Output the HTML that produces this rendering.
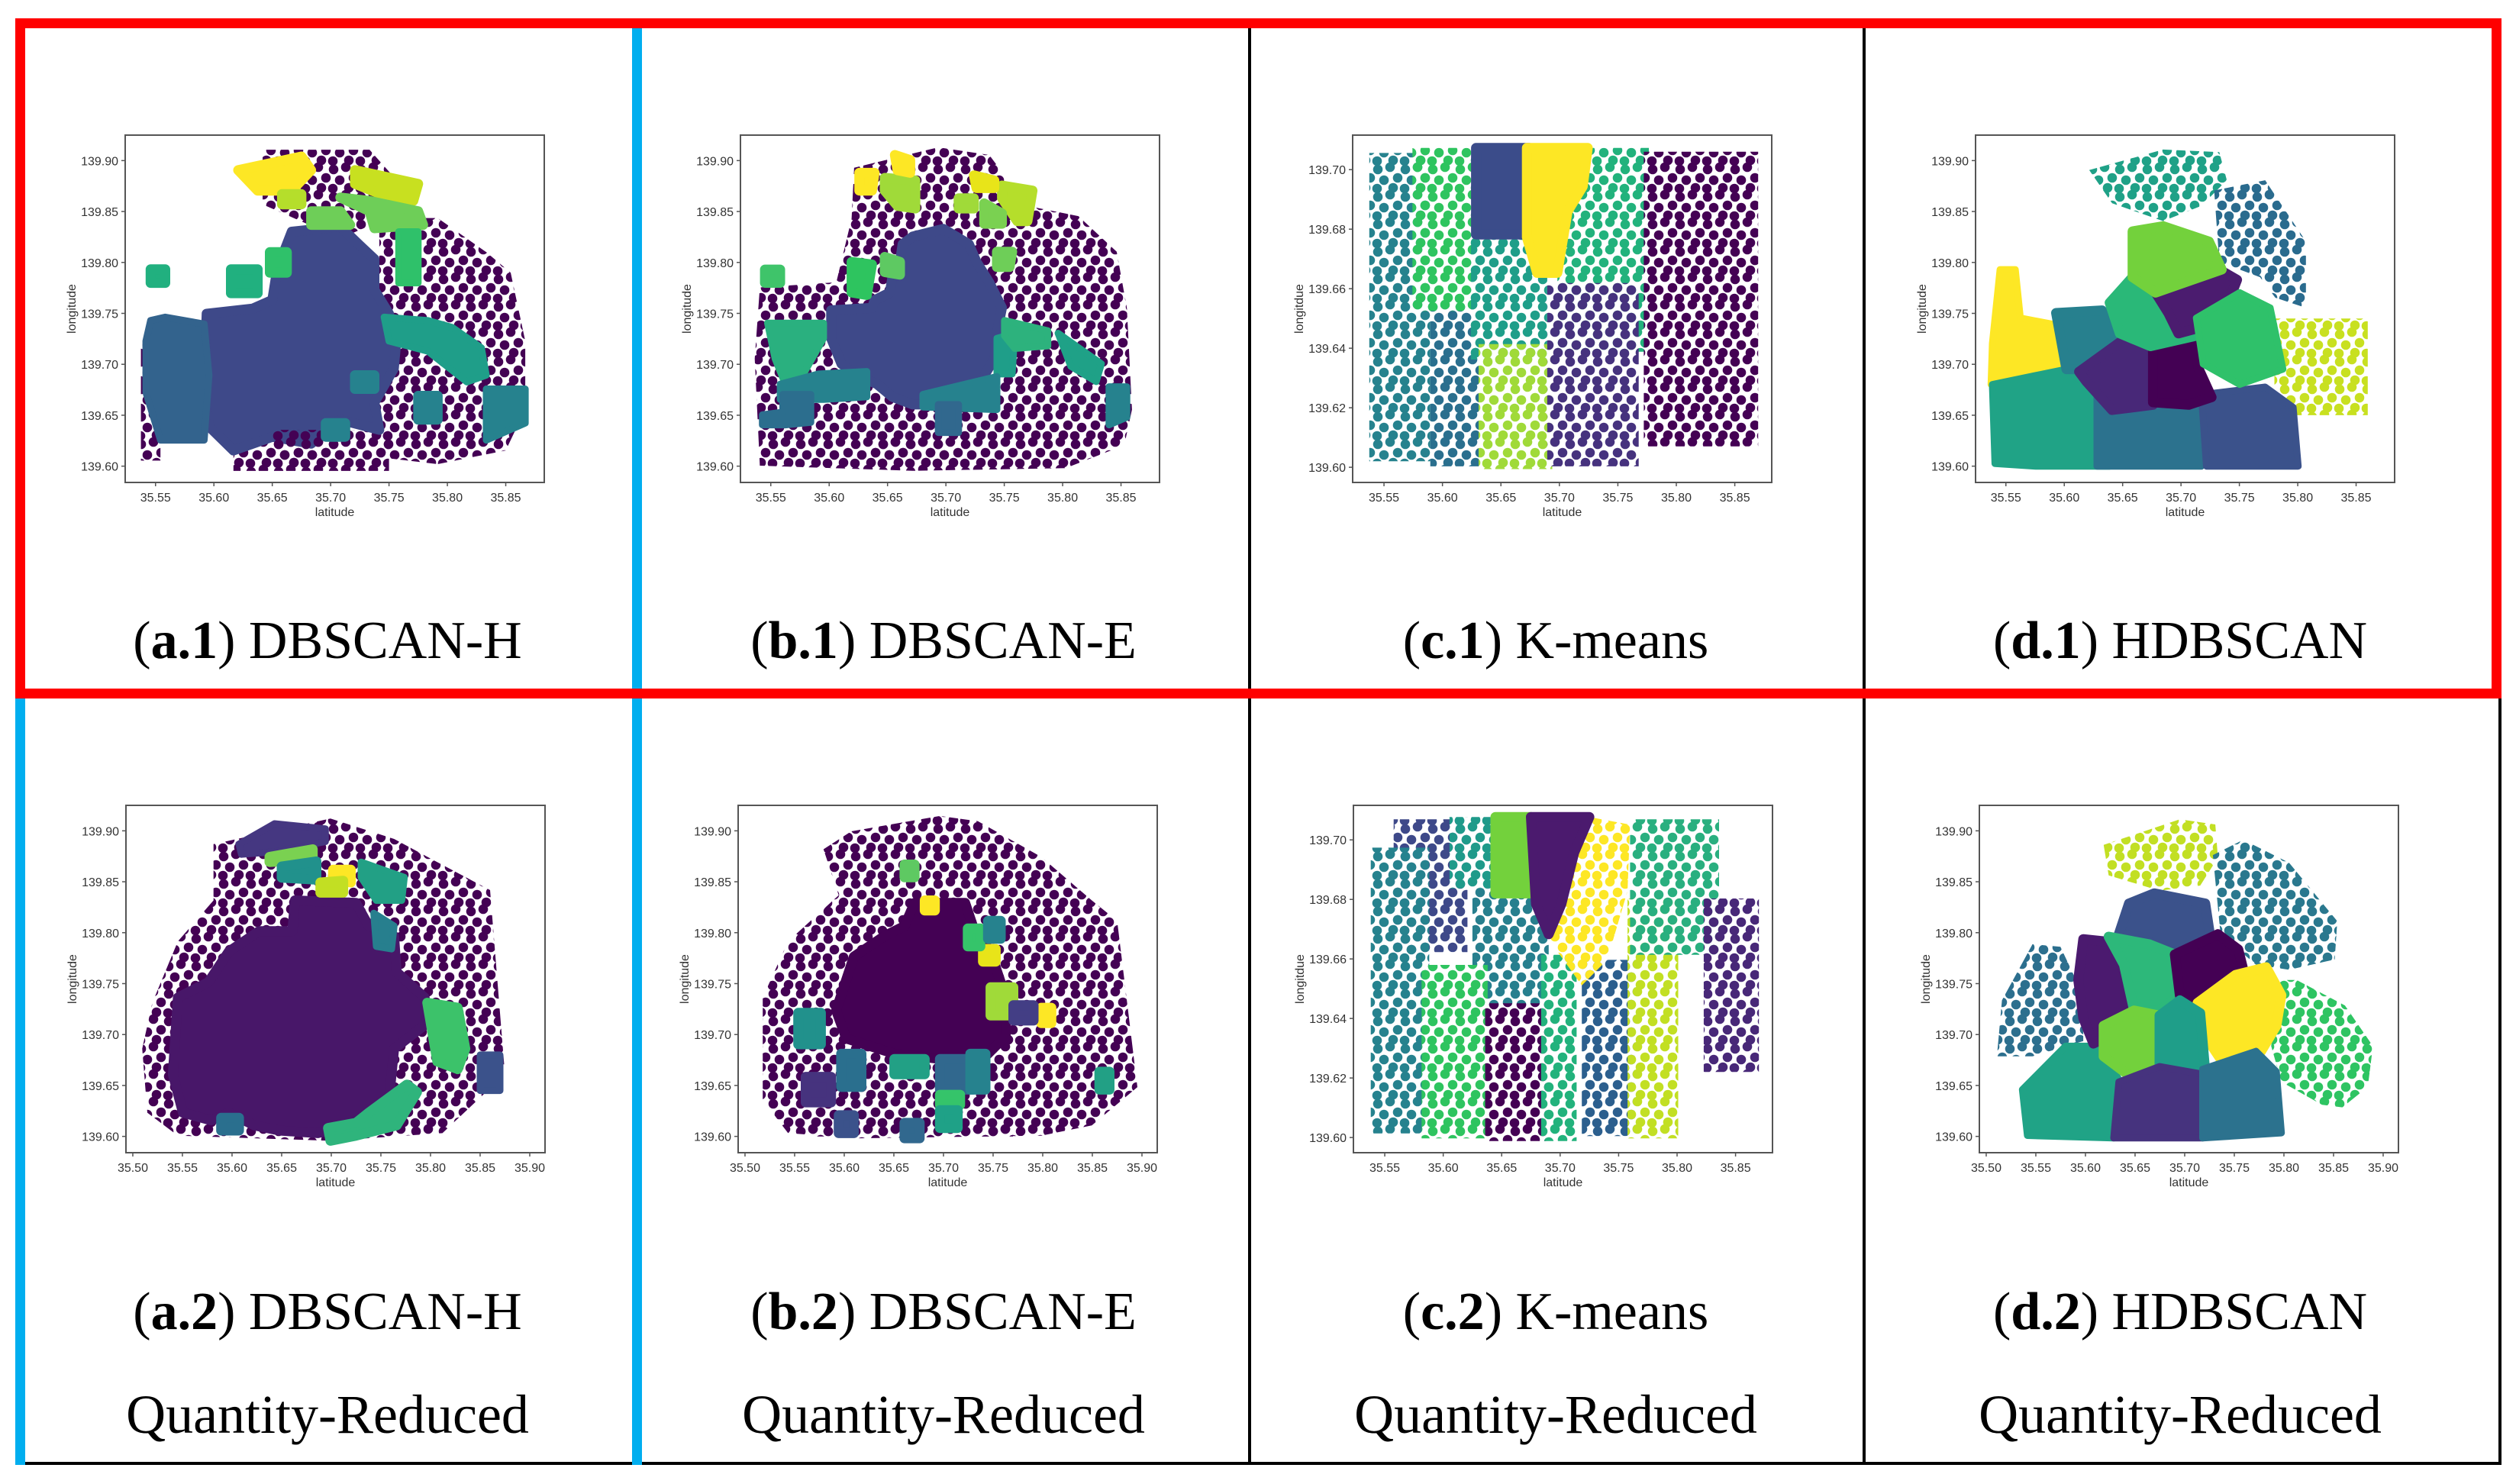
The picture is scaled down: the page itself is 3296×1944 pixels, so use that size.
<!DOCTYPE html>
<html><head><meta charset="utf-8"><title>Clustering comparison</title>
<style>
html,body{margin:0;padding:0;background:#fff;}
svg{display:block;}
</style></head>
<body>
<svg id="fig" xmlns="http://www.w3.org/2000/svg" width="3296" height="1944" viewBox="0 0 3296 1944">
<defs id="defs"></defs>
<rect x="0" y="0" width="3296" height="1944" fill="#fff"/>
<g id="panels"></g>
<g id="frame">
  <rect x="1635" y="24" width="4" height="1895" fill="#000"/>
  <rect x="2440" y="24" width="4" height="1895" fill="#000"/>
  <rect x="3273" y="910" width="4" height="1009" fill="#000"/>
  <rect x="20" y="1915" width="3257" height="4" fill="#000"/>
  <rect x="828" y="37" width="13" height="1882" fill="#00aeef"/>
  <rect x="20" y="915" width="13" height="1004" fill="#00aeef"/>
  <rect x="26.5" y="30.5" width="3244" height="878" fill="none" stroke="#ff0000" stroke-width="13"/>
</g>
<g id="captions" font-family="'Liberation Serif', serif" font-size="70" fill="#000" text-anchor="middle">
  <text x="429" y="862">(<tspan font-weight="bold">a.1</tspan>) DBSCAN-H</text>
  <text x="1236" y="862">(<tspan font-weight="bold">b.1</tspan>) DBSCAN-E</text>
  <text x="2038" y="862">(<tspan font-weight="bold">c.1</tspan>) K-means</text>
  <text x="2856" y="862">(<tspan font-weight="bold">d.1</tspan>) HDBSCAN</text>
  <text x="429" y="1741">(<tspan font-weight="bold">a.2</tspan>) DBSCAN-H</text>
  <text x="1236" y="1741">(<tspan font-weight="bold">b.2</tspan>) DBSCAN-E</text>
  <text x="2038" y="1741">(<tspan font-weight="bold">c.2</tspan>) K-means</text>
  <text x="2856" y="1741">(<tspan font-weight="bold">d.2</tspan>) HDBSCAN</text>
  <text x="429" y="1877" font-size="72">Quantity-Reduced</text>
  <text x="1236" y="1877" font-size="72">Quantity-Reduced</text>
  <text x="2038" y="1877" font-size="72">Quantity-Reduced</text>
  <text x="2856" y="1877" font-size="72">Quantity-Reduced</text>
</g>
</svg>
<script>
// ---------- tick label arrays ----------
const latTicksWide = [35.55, 35.60, 35.65, 35.70, 35.75, 35.80, 35.85];
const latTicksFull = [35.50, 35.55, 35.60, 35.65, 35.70, 35.75, 35.80, 35.85, 35.90];
const lonTicksWide = [139.60, 139.65, 139.70, 139.75, 139.80, 139.85, 139.90];
const lonTicksKm = [139.60, 139.62, 139.64, 139.66, 139.68, 139.70];
// ---------- axis domains (data units) ----------
const domainRow1 = [35.524, 35.883, 139.584, 139.925];
const domainRow2 = [35.4931, 35.9154, 139.584, 139.925];
const domainKm = [35.5232, 35.8816, 139.5949, 139.7116];

// ---------- cluster data: colour, fill mode, lat/lon vertices ----------
const a1Clusters = [
 {c:'#440154',m:'sparse',pts:[[35.7417,139.8436],[35.7917,139.8436],[35.8333,139.8101],[35.8542,139.7899],[35.8667,139.7228],[35.8667,139.6557],[35.85,139.6154],[35.7917,139.6020],[35.7417,139.6087],[35.7417,139.7228]]},
 {c:'#440154',m:'sparse',pts:[[35.6167,139.6356],[35.75,139.6356],[35.75,139.5953],[35.6167,139.5953]]},
 {c:'#440154',m:'sparse',pts:[[35.5375,139.7228],[35.5542,139.7228],[35.5542,139.6054],[35.5375,139.6054]]},
 {c:'#440154',m:'sparse',pts:[[35.6417,139.9107],[35.7333,139.9107],[35.775,139.8570],[35.7083,139.8235],[35.6417,139.8570]]},
 {c:'#3e4989',m:'solid',pts:[[35.6667,139.8302],[35.7083,139.8352],[35.725,139.8168],[35.7375,139.8033],[35.7375,139.7731],[35.75,139.7497],[35.7563,139.7228],[35.7542,139.6960],[35.7375,139.6624],[35.7417,139.6356],[35.7083,139.6456],[35.6833,139.6221],[35.65,139.6288],[35.6167,139.6154],[35.5958,139.6389],[35.5917,139.6758],[35.5938,139.7497],[35.6333,139.7547],[35.65,139.7631],[35.6542,139.7933]]},
 {c:'#33638d',m:'dense',pts:[[35.5458,139.7430],[35.5583,139.7463],[35.5917,139.7396],[35.5958,139.6893],[35.5917,139.6255],[35.5542,139.6255],[35.5417,139.6725],[35.5417,139.7228]]},
 {c:'#440154',m:'sparse',pts:[[35.65,139.6356],[35.7083,139.6356],[35.7125,139.5986],[35.6458,139.5986]]},
 {c:'#fde725',m:'solid',pts:[[35.6208,139.8906],[35.675,139.9040],[35.6833,139.8906],[35.6667,139.8705],[35.6375,139.8705]]},
 {c:'#c8e020',m:'solid',pts:[[35.7208,139.8906],[35.775,139.8772],[35.7708,139.8604],[35.75,139.8638],[35.7208,139.8772]]},
 {c:'#b5de2b',m:'solid',pts:[[35.6583,139.8671],[35.675,139.8671],[35.675,139.8570],[35.6583,139.8570]]},
 {c:'#6ece58',m:'solid',pts:[[35.6833,139.8503],[35.7083,139.8503],[35.7167,139.8369],[35.6833,139.8369]]},
 {c:'#6ece58',m:'solid',pts:[[35.7083,139.8638],[35.7333,139.8604],[35.775,139.8503],[35.7792,139.8369],[35.7375,139.8336],[35.7333,139.8503]]},
 {c:'#2fc16a',m:'solid',pts:[[35.6479,139.8101],[35.6625,139.8101],[35.6625,139.7899],[35.6479,139.7899]]},
 {c:'#21b07f',m:'solid',pts:[[35.6146,139.7933],[35.6375,139.7933],[35.6375,139.7698],[35.6146,139.7698]]},
 {c:'#21b07f',m:'solid',pts:[[35.5458,139.7933],[35.5583,139.7933],[35.5583,139.7799],[35.5458,139.7799]]},
 {c:'#2fc16a',m:'dense',pts:[[35.7583,139.8302],[35.775,139.8302],[35.775,139.7799],[35.7583,139.7799]]},
 {c:'#1f9e89',m:'dense',pts:[[35.7458,139.7463],[35.7833,139.7430],[35.8042,139.7362],[35.8292,139.7161],[35.8333,139.6893],[35.8167,139.6826],[35.7833,139.7128],[35.75,139.7228]]},
 {c:'#26828e',m:'dense',pts:[[35.8333,139.6758],[35.8667,139.6758],[35.8667,139.6423],[35.8333,139.6255]]},
 {c:'#26828e',m:'solid',pts:[[35.775,139.6691],[35.7917,139.6691],[35.7917,139.6456],[35.775,139.6456]]},
 {c:'#26828e',m:'solid',pts:[[35.7208,139.6893],[35.7375,139.6893],[35.7375,139.6758],[35.7208,139.6758]]},
 {c:'#26828e',m:'solid',pts:[[35.6958,139.6423],[35.7125,139.6423],[35.7125,139.6288],[35.6958,139.6288]]}
];
const b1Clusters = [
 {c:'#440154',m:'sparse',pts:[[35.6214,139.8930],[35.6934,139.9130],[35.7371,139.9055],[35.7699,139.8555],[35.8135,139.8455],[35.8463,139.8105],[35.8550,139.7555],[35.8594,139.6555],[35.8528,139.6205],[35.8026,139.5980],[35.6716,139.5955],[35.5406,139.6005],[35.5362,139.7055],[35.5406,139.7755],[35.6061,139.7805],[35.6192,139.8430]]},
 {c:'#440154',m:'sparse',pts:[[35.6367,139.6580],[35.7000,139.6580],[35.7000,139.5980],[35.6367,139.5980]]},
 {c:'#3e4989',m:'solid',pts:[[35.6716,139.8255],[35.6978,139.8330],[35.7197,139.8180],[35.7262,139.8005],[35.7371,139.7805],[35.7480,139.7555],[35.7437,139.7305],[35.7415,139.7055],[35.7284,139.6805],[35.7153,139.6680],[35.6934,139.6605],[35.6716,139.6605],[35.6541,139.6680],[35.6410,139.6805],[35.6214,139.6905],[35.6105,139.7005],[35.6017,139.7255],[35.6017,139.7530],[35.6367,139.7555],[35.6389,139.7630],[35.6520,139.7705],[35.6541,139.7855],[35.6607,139.8005],[35.6629,139.8180]]},
 {c:'#2ab07f',m:'dense',pts:[[35.5472,139.7405],[35.5952,139.7405],[35.5952,139.7255],[35.5755,139.6855],[35.5624,139.6805],[35.5537,139.7055]]},
 {c:'#26828e',m:'dense',pts:[[35.5581,139.6805],[35.5908,139.6905],[35.6323,139.6930],[35.6323,139.6680],[35.5952,139.6655],[35.5581,139.6655]]},
 {c:'#2c6e8e',m:'dense',pts:[[35.5603,139.6705],[35.5843,139.6705],[35.5843,139.6430],[35.5624,139.6405],[35.5428,139.6405],[35.5428,139.6505],[35.5603,139.6530]]},
 {c:'#1f9e89',m:'dense',pts:[[35.7437,139.7255],[35.7590,139.7305],[35.7568,139.6905],[35.7437,139.6905]]},
 {c:'#26828e',m:'dense',pts:[[35.6803,139.6705],[35.7437,139.6880],[35.7437,139.6555],[35.6803,139.6580]]},
 {c:'#1fa187',m:'dense',pts:[[35.7961,139.7305],[35.8332,139.7005],[35.8288,139.6830],[35.8070,139.6980]]},
 {c:'#26828e',m:'dense',pts:[[35.8397,139.6780],[35.8550,139.6780],[35.8550,139.6480],[35.8397,139.6405]]},
 {c:'#2db27d',m:'dense',pts:[[35.7502,139.7430],[35.7873,139.7330],[35.7873,139.7180],[35.7590,139.7155],[35.7502,139.7280]]},
 {c:'#31688e',m:'dense',pts:[[35.6934,139.6605],[35.7109,139.6605],[35.7109,139.6330],[35.6934,139.6330]]},
 {c:'#3fc46a',m:'solid',pts:[[35.545,139.793],[35.558,139.793],[35.558,139.780],[35.545,139.780]]},
 {c:'#2ec45f',m:'solid',pts:[[35.6192,139.8005],[35.6367,139.7980],[35.6323,139.7680],[35.6192,139.7705]]},
 {c:'#5ec962',m:'solid',pts:[[35.6476,139.8055],[35.6607,139.8005],[35.6607,139.7880],[35.6476,139.7905]]},
 {c:'#6ece58',m:'solid',pts:[[35.7437,139.8105],[35.7568,139.8105],[35.7546,139.7955],[35.7437,139.7955]]},
 {c:'#a0da39',m:'solid',pts:[[35.6476,139.8830],[35.6738,139.8805],[35.6738,139.8530],[35.6585,139.8555],[35.6476,139.8705]]},
 {c:'#a0da39',m:'solid',pts:[[35.7109,139.8630],[35.7240,139.8630],[35.7240,139.8530],[35.7109,139.8530]]},
 {c:'#b5de2b',m:'solid',pts:[[35.7480,139.8755],[35.7742,139.8705],[35.7699,139.8405],[35.7611,139.8405],[35.7480,139.8630]]},
 {c:'#7ad151',m:'solid',pts:[[35.7328,139.8580],[35.7480,139.8480],[35.7480,139.8380],[35.7328,139.8380]]},
 {c:'#fde725',m:'solid',pts:[[35.6258,139.8880],[35.6389,139.8880],[35.6367,139.8705],[35.6258,139.8705]]},
 {c:'#fde725',m:'solid',pts:[[35.6563,139.9055],[35.6694,139.9005],[35.6694,139.8880],[35.6585,139.8905]]},
 {c:'#e8e419',m:'solid',pts:[[35.7240,139.8855],[35.7415,139.8805],[35.7415,139.8730],[35.7262,139.8730]]}
];
const c1Clusters = [
 {c:'#26828e',m:'sparse',pts:[[35.5374,139.7056],[35.5896,139.7056],[35.5896,139.6020],[35.5374,139.6020]]},
 {c:'#2a6f8e',m:'sparse',pts:[[35.5896,139.6542],[35.6309,139.6542],[35.6309,139.6003],[35.5896,139.6003]]},
 {c:'#2ec45f',m:'sparse',pts:[[35.5743,139.7073],[35.6330,139.7073],[35.6330,139.6525],[35.5743,139.6525]]},
 {c:'#1f9e89',m:'sparse',pts:[[35.6243,139.6799],[35.6896,139.6799],[35.6896,139.6362],[35.6243,139.6362]]},
 {c:'#22b27c',m:'sparse',pts:[[35.6983,139.7073],[35.7765,139.7073],[35.7765,139.6388],[35.6983,139.6388]]},
 {c:'#a0da39',m:'sparse',pts:[[35.6309,139.6414],[35.6939,139.6414],[35.6939,139.5994],[35.6309,139.5994]]},
 {c:'#46327e',m:'sparse',pts:[[35.6896,139.6619],[35.7678,139.6619],[35.7678,139.6003],[35.6896,139.6003]]},
 {c:'#440154',m:'sparse',pts:[[35.7722,139.7060],[35.8700,139.7060],[35.8700,139.6070],[35.7722,139.6070]]},
 {c:'#3b4c8a',m:'solid',pts:[[35.6287,139.7073],[35.6743,139.7073],[35.6743,139.6782],[35.6287,139.6782]]},
 {c:'#fde725',m:'solid',pts:[[35.6722,139.7073],[35.7243,139.7073],[35.7200,139.6944],[35.7070,139.6859],[35.6983,139.6653],[35.6809,139.6653],[35.6722,139.6773]]}
];
const d1Clusters = [
 {c:'#1fa187',m:'sparse',pts:[[35.6214,139.8907],[35.6847,139.9108],[35.7328,139.9083],[35.7393,139.8807],[35.7175,139.8556],[35.6847,139.8406],[35.6410,139.8581]]},
 {c:'#2a6b8e',m:'sparse',pts:[[35.7284,139.8707],[35.7721,139.8807],[35.8070,139.8206],[35.8070,139.7554],[35.7808,139.7654],[35.7677,139.7855],[35.7328,139.8005]]},
 {c:'#c8e020',m:'sparse',pts:[[35.7800,139.7450],[35.8600,139.7450],[35.8600,139.6500],[35.7800,139.6500]]},
 {c:'#fde725',m:'dense',pts:[[35.5450,139.7930],[35.5581,139.7930],[35.5624,139.7454],[35.5974,139.7378],[35.5996,139.6952],[35.5712,139.6802],[35.5373,139.6802],[35.5384,139.7203]]},
 {c:'#20a386',m:'dense',pts:[[35.5384,139.6802],[35.6018,139.6952],[35.6280,139.6702],[35.6389,139.6000],[35.5755,139.6000],[35.5406,139.6025]]},
 {c:'#27808e',m:'solid',pts:[[35.5930,139.7504],[35.6323,139.7529],[35.6498,139.7253],[35.6236,139.6952],[35.6018,139.6952]]},
 {c:'#2c728e',m:'dense',pts:[[35.6280,139.6702],[35.6760,139.6627],[35.7153,139.6602],[35.7175,139.6000],[35.6280,139.6000]]},
 {c:'#3b528b',m:'dense',pts:[[35.7175,139.6702],[35.7721,139.6777],[35.7961,139.6577],[35.8004,139.6000],[35.7218,139.6000]]},
 {c:'#482878',m:'solid',pts:[[35.6127,139.6927],[35.6520,139.7253],[35.6760,139.7153],[35.6760,139.6602],[35.6410,139.6551],[35.6192,139.6827]]},
 {c:'#440154',m:'solid',pts:[[35.6760,139.7228],[35.7109,139.7278],[35.7153,139.6952],[35.7262,139.6677],[35.7066,139.6602],[35.6760,139.6627]]},
 {c:'#2ab878',m:'solid',pts:[[35.6389,139.7604],[35.6585,139.7855],[35.6760,139.7704],[35.7218,139.7303],[35.6738,139.7178],[35.6476,139.7303]]},
 {c:'#4b1c6f',m:'solid',pts:[[35.6782,139.7704],[35.7328,139.7930],[35.7480,139.7830],[35.7371,139.7504],[35.7218,139.7378],[35.6978,139.7303],[35.6891,139.7504]]},
 {c:'#73d13c',m:'solid',pts:[[35.6585,139.8306],[35.6847,139.8356],[35.7240,139.8205],[35.7349,139.7930],[35.6782,139.7704],[35.6585,139.7855]]},
 {c:'#2fc16a',m:'dense',pts:[[35.7131,139.7454],[35.7502,139.7704],[35.7764,139.7554],[35.7873,139.6952],[35.7502,139.6802],[35.7190,139.7003]]}
];
const a2Clusters = [
 {c:'#440154',m:'sparse',pts:[[35.5813,139.8869],[35.6992,139.9121],[35.7633,139.8920],[35.8018,139.8719],[35.8600,139.8418],[35.8750,139.6610],[35.8120,139.6032],[35.6992,139.5957],[35.5454,139.6007],[35.5146,139.6233],[35.5095,139.6861],[35.5197,139.7313],[35.5454,139.7915],[35.5813,139.8317]]},
 {c:'#481769',m:'solid',pts:[[35.6633,139.8317],[35.7249,139.8292],[35.7377,139.8066],[35.7633,139.7966],[35.7659,139.7614],[35.7941,139.7363],[35.7967,139.7112],[35.7633,139.6861],[35.7582,139.6359],[35.7326,139.6133],[35.6864,139.6032],[35.6479,139.6057],[35.6223,139.6108],[35.5967,139.6233],[35.5787,139.6158],[35.5505,139.6233],[35.5403,139.6610],[35.5454,139.7363],[35.5762,139.7514],[35.5967,139.7815],[35.6274,139.8016],[35.6608,139.8016]]},
 {c:'#3cc26a',m:'solid',pts:[[35.7967,139.7313],[35.8274,139.7263],[35.8351,139.6861],[35.8274,139.6660],[35.8069,139.6735]]},
 {c:'#2fb47c',m:'solid',pts:[[35.7377,139.6233],[35.7762,139.6509],[35.7864,139.6434],[35.7659,139.6108],[35.7249,139.6007],[35.6992,139.5957],[35.6967,139.6082],[35.7249,139.6133]]},
 {c:'#22a085',m:'dense',pts:[[35.7300,139.8694],[35.7736,139.8543],[35.7710,139.8317],[35.7454,139.8317],[35.7300,139.8543]]},
 {c:'#277f8e',m:'dense',pts:[[35.7428,139.8192],[35.7633,139.8066],[35.7608,139.7840],[35.7454,139.7865]]},
 {c:'#453781',m:'dense',pts:[[35.6069,139.8869],[35.6428,139.9070],[35.6941,139.9020],[35.6941,139.8894],[35.6428,139.8794],[35.6095,139.8769]]},
 {c:'#7ad151',m:'solid',pts:[[35.6377,139.8744],[35.6813,139.8819],[35.6813,139.8719],[35.6377,139.8694]]},
 {c:'#21918c',m:'solid',pts:[[35.6500,139.8650],[35.6850,139.8700],[35.6850,139.8520],[35.6500,139.8540]]},
 {c:'#fde725',m:'solid',pts:[[35.7018,139.8618],[35.7197,139.8618],[35.7197,139.8493],[35.7018,139.8518]]},
 {c:'#c2df23',m:'solid',pts:[[35.6890,139.8493],[35.7120,139.8510],[35.7120,139.8393],[35.6890,139.8393]]},
 {c:'#2a6f8e',m:'solid',pts:[[35.5890,139.6183],[35.6070,139.6183],[35.6070,139.6057],[35.5890,139.6057]]},
 {c:'#3b528b',m:'dense',pts:[[35.8500,139.6800],[35.8700,139.6800],[35.8700,139.6450],[35.8500,139.6450]]}
];
const b2Clusters = [
 {c:'#440154',m:'sparse',pts:[[35.6071,139.8995],[35.6964,139.9146],[35.7347,139.9095],[35.7985,139.8744],[35.8495,139.8317],[35.8750,139.8116],[35.8954,139.6484],[35.8495,139.6108],[35.7985,139.6007],[35.6148,139.5982],[35.5434,139.6032],[35.5179,139.6359],[35.5179,139.7363],[35.5434,139.7915],[35.5944,139.8367],[35.5791,139.8819]]},
 {c:'#440154',m:'solid',pts:[[35.6709,139.8292],[35.7219,139.8292],[35.7296,139.8066],[35.7474,139.7815],[35.7628,139.7363],[35.7628,139.6986],[35.7423,139.6786],[35.6964,139.6760],[35.6505,139.6811],[35.6020,139.6961],[35.5918,139.7238],[35.6097,139.7765],[35.6403,139.7966],[35.6607,139.8066]]},
 {c:'#440154',m:'sparse',pts:[[35.5600,139.6800],[35.7700,139.6800],[35.7700,139.6000],[35.5600,139.6000]]},
 {c:'#21918c',m:'solid',pts:[[35.5536,139.7213],[35.5765,139.7213],[35.5765,139.6904],[35.5536,139.6904]]},
 {c:'#46337e',m:'solid',pts:[[35.5612,139.6585],[35.5867,139.6585],[35.5867,139.6334],[35.5612,139.6334]]},
 {c:'#2a6f8e',m:'solid',pts:[[35.5969,139.6811],[35.6173,139.6811],[35.6173,139.6485],[35.5969,139.6485]]},
 {c:'#22a085',m:'solid',pts:[[35.6505,139.6760],[35.6811,139.6760],[35.6811,139.6610],[35.6505,139.6610]]},
 {c:'#31688e',m:'solid',pts:[[35.6964,139.6760],[35.7296,139.6760],[35.7296,139.6459],[35.6964,139.6459]]},
 {c:'#26828e',m:'solid',pts:[[35.7270,139.6811],[35.7423,139.6811],[35.7423,139.6459],[35.7270,139.6459]]},
 {c:'#35c46a',m:'solid',pts:[[35.6964,139.6409],[35.7168,139.6409],[35.7168,139.6309],[35.6964,139.6309]]},
 {c:'#1fa187',m:'solid',pts:[[35.6964,139.6258],[35.7143,139.6258],[35.7143,139.6082],[35.6964,139.6082]]},
 {c:'#3b528b',m:'solid',pts:[[35.5944,139.6208],[35.6097,139.6208],[35.6097,139.6032],[35.5944,139.6032]]},
 {c:'#31688e',m:'solid',pts:[[35.6607,139.6133],[35.6760,139.6133],[35.6760,139.5982],[35.6607,139.5982]]},
 {c:'#a0da39',m:'solid',pts:[[35.7474,139.7464],[35.7704,139.7464],[35.7704,139.7187],[35.7474,139.7187]]},
 {c:'#fde725',m:'solid',pts:[[35.6811,139.8317],[35.6913,139.8317],[35.6913,139.8217],[35.6811,139.8217]]},
 {c:'#e8e419',m:'solid',pts:[[35.7398,139.7840],[35.7526,139.7840],[35.7526,139.7715],[35.7398,139.7715]]},
 {c:'#fde725',m:'solid',pts:[[35.7985,139.7263],[35.8087,139.7263],[35.8087,139.7112],[35.7985,139.7112]]},
 {c:'#5ec962',m:'solid',pts:[[35.6607,139.8669],[35.6709,139.8669],[35.6709,139.8543],[35.6607,139.8543]]},
 {c:'#35c46a',m:'solid',pts:[[35.7245,139.8041],[35.7372,139.8041],[35.7372,139.7865],[35.7245,139.7865]]},
 {c:'#26828e',m:'solid',pts:[[35.7449,139.8116],[35.7577,139.8116],[35.7577,139.7940],[35.7449,139.7940]]},
 {c:'#433e85',m:'solid',pts:[[35.7704,139.7288],[35.7908,139.7288],[35.7908,139.7137],[35.7704,139.7137]]},
 {c:'#22a085',m:'solid',pts:[[35.8571,139.6635],[35.8673,139.6635],[35.8673,139.6459],[35.8571,139.6459]]}
];
const c2Clusters = [
 {c:'#3e4989',m:'sparse',pts:[[35.5576,139.7069],[35.6207,139.7069],[35.6207,139.6623],[35.5576,139.6623]]},
 {c:'#1f9a8a',m:'sparse',pts:[[35.6054,139.7077],[35.6446,139.7077],[35.6446,139.6837],[35.6054,139.6837]]},
 {c:'#26828e',m:'sparse',pts:[[35.5380,139.6974],[35.5880,139.6974],[35.5880,139.6014],[35.5380,139.6014]]},
 {c:'#277f8e',m:'sparse',pts:[[35.6250,139.6837],[35.6902,139.6837],[35.6902,139.6443],[35.6250,139.6443]]},
 {c:'#2ec45f',m:'sparse',pts:[[35.5815,139.6580],[35.6380,139.6580],[35.6380,139.5997],[35.5815,139.5997]]},
 {c:'#440154',m:'sparse',pts:[[35.6359,139.6451],[35.6880,139.6451],[35.6880,139.5988],[35.6359,139.5988]]},
 {c:'#22b27c',m:'sparse',pts:[[35.6837,139.6614],[35.7141,139.6614],[35.7141,139.5988],[35.6837,139.5988]]},
 {c:'#2c5f8e',m:'sparse',pts:[[35.7185,139.6597],[35.7641,139.6597],[35.7641,139.6005],[35.7185,139.6005]]},
 {c:'#c2df23',m:'sparse',pts:[[35.7576,139.6803],[35.8010,139.6803],[35.8010,139.5997],[35.7576,139.5997]]},
 {c:'#29af7f',m:'sparse',pts:[[35.7598,139.7069],[35.8359,139.7069],[35.8359,139.6614],[35.7598,139.6614]]},
 {c:'#482878',m:'sparse',pts:[[35.8228,139.6803],[35.8700,139.6803],[35.8700,139.6220],[35.8228,139.6220]]},
 {c:'#fde725',m:'sparse',pts:[[35.7250,139.7077],[35.7598,139.7051],[35.7576,139.6828],[35.7402,139.6597],[35.7185,139.6511],[35.6902,139.6666],[35.7033,139.6871]]},
 {c:'#73d13c',m:'solid',pts:[[35.6446,139.7077],[35.6750,139.7077],[35.6750,139.6820],[35.6446,139.6820]]},
 {c:'#4b1a6e',m:'solid',pts:[[35.6750,139.7077],[35.7250,139.7077],[35.7120,139.6957],[35.7011,139.6785],[35.6902,139.6683],[35.6793,139.6785]]}
];
const d2Clusters = [
 {c:'#c2df23',m:'sparse',pts:[[35.6183,139.8862],[35.6951,139.9113],[35.7309,139.9063],[35.7335,139.8737],[35.7156,139.8462],[35.6746,139.8412],[35.6234,139.8562]]},
 {c:'#2a788e',m:'sparse',pts:[[35.7284,139.8762],[35.7590,139.8912],[35.8052,139.8687],[35.8538,139.8112],[35.8512,139.7737],[35.8052,139.7636],[35.7719,139.7686],[35.7361,139.7986]]},
 {c:'#2c6f8e',m:'sparse',pts:[[35.5159,139.7336],[35.5466,139.7887],[35.5748,139.7861],[35.5978,139.7386],[35.5978,139.6936],[35.5466,139.6786],[35.5108,139.6786]]},
 {c:'#2ec462',m:'sparse',pts:[[35.7949,139.7536],[35.8128,139.7536],[35.8615,139.7286],[35.8897,139.6886],[35.8845,139.6485],[35.8589,139.6285],[35.8384,139.6310],[35.7975,139.6535],[35.7872,139.6886]]},
 {c:'#20a386',m:'dense',pts:[[35.5364,139.6460],[35.5799,139.6886],[35.6132,139.6886],[35.6336,139.6561],[35.6285,139.5984],[35.5415,139.6009]]},
 {c:'#3b528b',m:'solid',pts:[[35.6439,139.8287],[35.6695,139.8387],[35.7207,139.8287],[35.7258,139.7961],[35.6900,139.7786],[35.6541,139.7961],[35.6336,139.7986]]},
 {c:'#4b1a6f',m:'solid',pts:[[35.5978,139.7937],[35.6234,139.7911],[35.6439,139.7536],[35.6490,139.7236],[35.6336,139.7036],[35.6080,139.6911],[35.5978,139.7161],[35.5927,139.7536]]},
 {c:'#2db87a',m:'solid',pts:[[35.6234,139.7961],[35.6644,139.7886],[35.6900,139.7786],[35.6951,139.7386],[35.6746,139.7236],[35.6490,139.7236],[35.6388,139.7686]]},
 {c:'#440154',m:'solid',pts:[[35.6900,139.7786],[35.7335,139.7986],[35.7540,139.7836],[35.7591,139.7636],[35.7207,139.7286],[35.7104,139.7286],[35.6951,139.7386]]},
 {c:'#fde725',m:'solid',pts:[[35.7130,139.7311],[35.7514,139.7586],[35.7821,139.7661],[35.7975,139.7386],[35.7924,139.7086],[35.7770,139.6836],[35.7361,139.6761],[35.7207,139.6986]]},
 {c:'#73d13c',m:'solid',pts:[[35.6183,139.7086],[35.6490,139.7236],[35.6746,139.7186],[35.6746,139.6736],[35.6490,139.6561],[35.6183,139.6786]]},
 {c:'#1f9e89',m:'solid',pts:[[35.6746,139.7186],[35.6951,139.7336],[35.7156,139.7211],[35.7207,139.6636],[35.6746,139.6636]]},
 {c:'#46337e',m:'dense',pts:[[35.6336,139.6535],[35.6746,139.6686],[35.7181,139.6611],[35.7181,139.5984],[35.6285,139.5984]]},
 {c:'#2c728e',m:'dense',pts:[[35.7181,139.6660],[35.7719,139.6836],[35.7924,139.6636],[35.7975,139.6034],[35.7181,139.5984]]}
];

// ---------- layout (pixels; not data) ----------
const layout = [
 {id:'a1', left:164, top:177, row:1, clusters:a1Clusters, ylab:'longitude'},
 {id:'b1', left:970, top:177, row:1, clusters:b1Clusters, ylab:'longitude'},
 {id:'c1', left:1772, top:177, row:0, clusters:c1Clusters, ylab:'longitdue'},
 {id:'d1', left:2588, top:177, row:1, clusters:d1Clusters, ylab:'longitude'},
 {id:'a2', left:165, top:1055, row:2, clusters:a2Clusters, ylab:'longitude'},
 {id:'b2', left:967, top:1055, row:2, clusters:b2Clusters, ylab:'longitude'},
 {id:'c2', left:1773, top:1055, row:0, clusters:c2Clusters, ylab:'longitdue'},
 {id:'d2', left:2593, top:1055, row:2, clusters:d2Clusters, ylab:'longitude'}
];
const W = 549, H = 455, NS = 'http://www.w3.org/2000/svg';
const defs = document.getElementById('defs');
const panelsG = document.getElementById('panels');
const patterns = {};
const dotSpots = [[5,6],[21,3],[31,17],[13,20],[25,30],[4,31]];

function mk(tag, attrs, parent){
  const e = document.createElementNS(NS, tag);
  for (const k in attrs) e.setAttribute(k, attrs[k]);
  if (parent) parent.appendChild(e);
  return e;
}
function patternFor(color){
  if (patterns[color]) return patterns[color];
  const id = 'pat' + color.slice(1);
  const p = mk('pattern', {id:id, patternUnits:'userSpaceOnUse', width:36, height:36}, defs);
  dotSpots.forEach(function(s){
    [-36,0,36].forEach(function(ox){ [-36,0,36].forEach(function(oy){
      mk('circle', {cx:s[0]+ox, cy:s[1]+oy, r:6.3, fill:color}, p);
    });});
  });
  patterns[color] = 'url(#' + id + ')';
  return patterns[color];
}
function fmt(v, d){ return v.toFixed(d); }

layout.forEach(function(P){
  const dom = P.row === 0 ? domainKm : (P.row === 1 ? domainRow1 : domainRow2);
  const xt = P.row === 2 ? latTicksFull : latTicksWide;
  const yt = P.row === 0 ? lonTicksKm : lonTicksWide;
  const sx = function(v){ return P.left + (v - dom[0]) / (dom[1] - dom[0]) * W; };
  const sy = function(v){ return P.top + H - (v - dom[2]) / (dom[3] - dom[2]) * H; };

  const g = mk('g', {}, panelsG);
  
  

  const clip = mk('clipPath', {id:'clip-' + P.id}, defs);
  mk('rect', {x:P.left, y:P.top, width:W, height:H}, clip);

  const marks = mk('g', {'clip-path':'url(#clip-' + P.id + ')'}, g);
  
  

  P.clusters.forEach(function(cl, i){
    const d = cl.pts.map(function(pt, j){ return (j ? 'L' : 'M') + sx(pt[0]).toFixed(1) + ',' + sy(pt[1]).toFixed(1); }).join('') + 'Z';
    const path = mk('path', {d:d}, marks);
    if (cl.m === 'sparse') {
      path.setAttribute('fill', patternFor(cl.c));
    } else {
      path.setAttribute('fill', cl.c);
      path.setAttribute('stroke', cl.c);
      path.setAttribute('stroke-width', cl.m === 'solid' ? '13' : '9');
      path.setAttribute('stroke-linejoin', 'round');
    }
    
    
  });

  const frame = mk('rect', {x:P.left, y:P.top, width:W, height:H, fill:'none', stroke:'#555', 'stroke-width':2}, g);
  
  

  const xg = mk('g', {'font-family':"'Liberation Sans', sans-serif", 'font-size':16, fill:'#333', 'text-anchor':'middle'}, g);
  
  
  xt.forEach(function(t){
    const x = sx(t);
    mk('line', {x1:x, x2:x, y1:P.top + H, y2:P.top + H + 5, stroke:'#555', 'stroke-width':1.5}, xg);
    const tx = mk('text', {x:x, y:P.top + H + 25}, xg);
    tx.textContent = fmt(t, 2);
    
    
  });
  const xl = mk('text', {x:P.left + W / 2, y:P.top + H + 44}, xg);
  xl.textContent = 'latitude';
  
  

  const yg = mk('g', {'font-family':"'Liberation Sans', sans-serif", 'font-size':16, fill:'#333', 'text-anchor':'end'}, g);
  
  
  yt.forEach(function(t){
    const y = sy(t);
    mk('line', {x1:P.left - 5, x2:P.left, y1:y, y2:y, stroke:'#555', 'stroke-width':1.5}, yg);
    const ty = mk('text', {x:P.left - 9, y:y + 6}, yg);
    ty.textContent = fmt(t, 2);
    
    
  });
  const cx = P.left - 70, cy = P.top + H / 2;
  const yl = mk('text', {x:cx, y:cy + 5, 'text-anchor':'middle', transform:'rotate(-90 ' + cx + ' ' + cy + ')'}, yg);
  yl.textContent = P.ylab;
  
  
});
</script>
</body></html>
